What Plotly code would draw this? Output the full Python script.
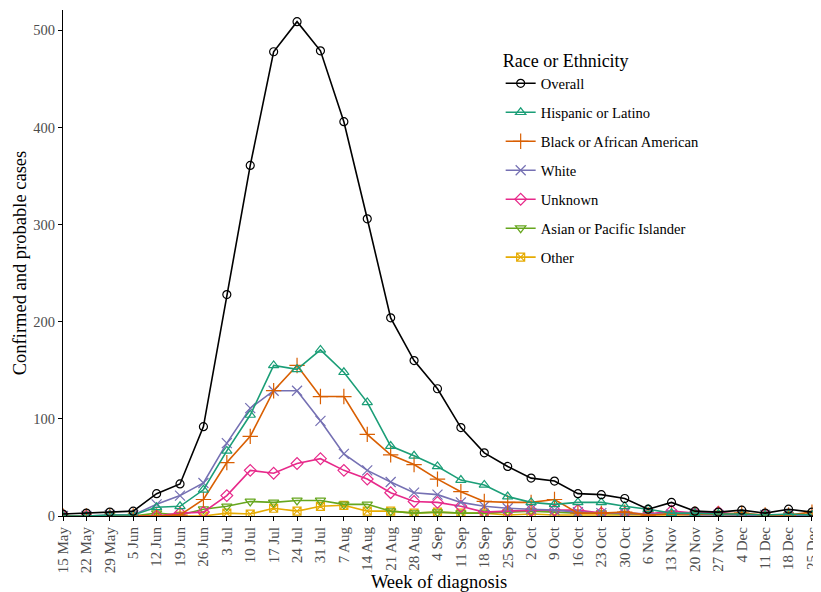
import plotly.graph_objects as go

weeks = ["15 May", "22 May", "29 May", "5 Jun", "12 Jun", "19 Jun", "26 Jun", "3 Jul",
         "10 Jul", "17 Jul", "24 Jul", "31 Jul", "7 Aug", "14 Aug", "21 Aug", "28 Aug",
         "4 Sep", "11 Sep", "18 Sep", "25 Sep", "2 Oct", "9 Oct", "16 Oct", "23 Oct",
         "30 Oct", "6 Nov", "13 Nov", "20 Nov", "27 Nov", "4 Dec", "11 Dec", "18 Dec", "25 Dec"]

overall = [2, 3, 4, 5, 23, 33, 92, 228, 361, 478, 509, 479, 406, 306, 204, 160,
           131, 91, 65, 51, 39, 36, 23, 22, 18, 7, 14, 5, 4, 6, 3, 7, 4]
hispanic = [0, 0, 1, 1, 9, 10, 27, 67, 104, 155, 151, 171, 148, 117, 72, 62,
            51, 37, 32, 20, 14, 12, 14, 14, 10, 7, 3, 3, 2, 2, 1, 2, 1]
black = [0, 0, 0, 0, 0, 1, 17, 55, 82, 129, 155, 123, 123, 84, 63, 53,
         38, 25, 15, 14, 14, 17, 3, 3, 4, 1, 2, 2, 2, 3, 1, 1, 4]
white = [0, 0, 1, 1, 12, 21, 34, 75, 111, 129, 129, 98, 64, 47, 35, 24,
         22, 14, 10, 8, 7, 6, 4, 3, 3, 2, 2, 1, 1, 1, 1, 1, 0]
unknown = [0, 0, 0, 0, 0, 3, 4, 21, 47, 44, 54, 59, 47, 38, 24, 15,
           14, 10, 4, 5, 6, 6, 6, 3, 3, 2, 5, 3, 4, 1, 1, 1, 0]
asian = [0, 0, 0, 0, 3, 1, 7, 10, 15, 14, 16, 16, 12, 12, 5, 3,
         4, 3, 3, 4, 5, 4, 3, 3, 2, 2, 2, 2, 2, 1, 1, 1, 1]
other = [0, 0, 0, 0, 0, 0, 0, 3, 2, 8, 5, 10, 11, 5, 5, 3,
         4, 3, 3, 1, 2, 1, 1, 1, 1, 1, 1, 1, 1, 0, 1, 0, 1]

series_names = ["Overall", "Hispanic or Latino", "Black or African American", "White",
                "Unknown", "Asian or Pacific Islander", "Other"]
series_values = [overall, hispanic, black, white, unknown, asian, other]
colors = ["#000000", "#1B9E77", "#D95F02", "#7570B3", "#E7298A", "#66A61E", "#E6AB02"]
symbols = ["circle-open", "triangle-up-open", "cross-thin-open", "x-thin-open",
           "diamond-open", "triangle-down-open", "square-x-open"]
sizes = [8, 9, 11, 10, 9, 9, 8]

FONT = "Liberation Serif, Times New Roman, serif"

fig = go.Figure()
for i in reversed(range(len(series_names))):
    fig.add_trace(go.Scatter(
        x=weeks, y=series_values[i], name=series_names[i], mode="lines+markers",
        line=dict(color=colors[i], width=1.6),
        marker=dict(symbol=symbols[i], size=sizes[i], color=colors[i],
                    line=dict(color=colors[i], width=1.2)),
        legendgroup=series_names[i], legendrank=i + 1,
    ))

# page body adds an 8px margin, so the figure is sized/offset to compensate
fig.update_layout(
    width=813, height=584,
    margin=dict(l=55, r=5.5, t=2, b=76, autoexpand=False),
    plot_bgcolor="white", paper_bgcolor="white",
    font=dict(family=FONT, color="#000000"),
    legend=dict(
        x=0.582, y=0.933, xanchor="left", yanchor="top",
        title=dict(text="Race or Ethnicity", font=dict(size=18, family=FONT)),
        font=dict(size=14.6, family=FONT),
        tracegroupgap=7, itemwidth=30,
        bgcolor="rgba(0,0,0,0)",
    ),
    xaxis=dict(
        type="category", range=[0, 32.13], automargin=False,
        tickangle=-90, tickfont=dict(size=15, color="#4D4D4D", family=FONT),
        showline=True, linecolor="black", linewidth=1.2,
        ticks="outside", ticklen=4, tickcolor="black", tickwidth=1.1,
        showgrid=False, zeroline=False,
        title=dict(text="Week of diagnosis", font=dict(size=18.5, family=FONT), standoff=2),
    ),
    yaxis=dict(
        range=[0, 521], tickvals=[0, 100, 200, 300, 400, 500], automargin=False,
        tickfont=dict(size=14.5, color="#4D4D4D", family=FONT),
        showline=True, linecolor="black", linewidth=1.2,
        ticks="outside", ticklen=4, tickcolor="black", tickwidth=1.1,
        showgrid=False, zeroline=False,
        title=dict(text="Confirmed and probable cases", font=dict(size=18.5, family=FONT), standoff=1),
    ),
)

fig.write_html("out.html")
